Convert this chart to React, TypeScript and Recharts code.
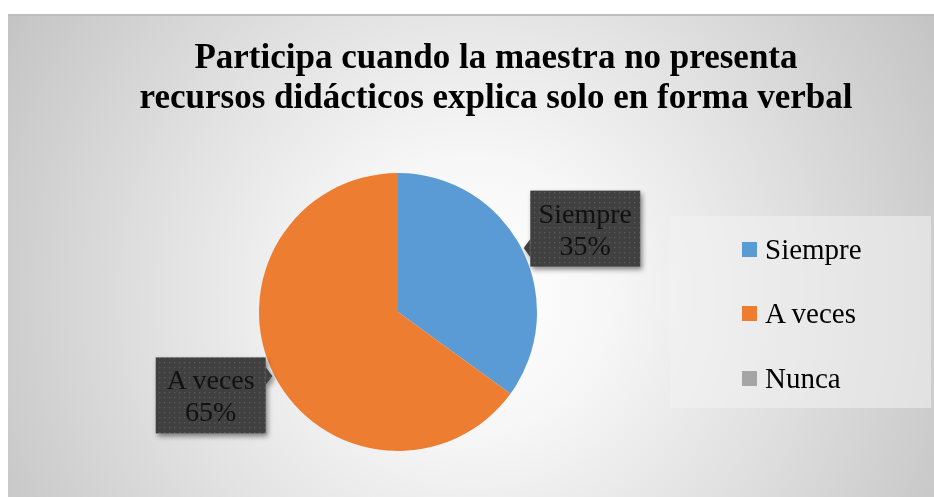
import React from 'react';
import { PieChart, Pie, Cell, Legend } from 'recharts';

const categories = ['Siempre', 'A veces', 'Nunca'];
const values = [35, 65, 0];
const colors = ['#5b9bd5', '#ed7d31', '#a5a5a5'];

const chartTitle = [
  'Participa cuando la maestra no presenta',
  'recursos didácticos explica solo en forma verbal',
];

const data = categories.map((name, i) => ({ name, value: values[i] }));

const RADIAN = Math.PI / 180;
const serif = '"Liberation Serif", "Times New Roman", serif';

const renderLabel = (props: any) => {
  const { cx, cy, midAngle, outerRadius, name, percent, index } = props;
  if (!percent) return null;
  const w = 110;
  const h = 76;
  const ang = (midAngle - 3) * RADIAN;
  const r = outerRadius + 66;
  const bx = cx + r * Math.cos(ang) - w / 2;
  const by = cy - r * Math.sin(ang) - h / 2;
  // pointer toward the slice
  const tx = cx + (outerRadius + 2) * Math.cos(midAngle * RADIAN);
  const ty = cy - (outerRadius + 2) * Math.sin(midAngle * RADIAN);
  const edgeX = tx < bx ? bx : bx + w;
  const baseY = Math.min(Math.max(ty, by + 10), by + h - 10);
  const pointer = `${edgeX},${baseY - 9} ${tx},${ty} ${edgeX},${baseY + 9}`;
  return (
    <g key={`lbl-${index}`}>
      {index === 0 && (
        <defs>
          <pattern id="dots" width="5" height="5" patternUnits="userSpaceOnUse">
            <rect width="5" height="5" fill="#404040" />
            <rect x="1" y="1" width="1.3" height="1.3" fill="#5a5a5a" />
          </pattern>
          <filter id="shade" x="-20%" y="-20%" width="150%" height="150%">
            <feDropShadow dx="2" dy="3" stdDeviation="2.5" floodColor="#000" floodOpacity="0.45" />
          </filter>
        </defs>
      )}
      <g filter="url(#shade)">
        <rect x={bx} y={by} width={w} height={h} fill="url(#dots)" />
        <polygon points={pointer} fill="url(#dots)" />
      </g>
      <text
        x={bx + w / 2}
        y={by + 32}
        textAnchor="middle"
        fontFamily={serif}
        fontSize={28}
        fill="#111"
      >
        {name}
      </text>
      <text
        x={bx + w / 2}
        y={by + 64}
        textAnchor="middle"
        fontFamily={serif}
        fontSize={28}
        fill="#111"
      >
        {`${Math.round(percent * 100)}%`}
      </text>
    </g>
  );
};

const renderLegend = () => (
  <div
    style={{
      width: 261,
      height: 192,
      background: 'rgba(242,242,242,0.55)',
      boxSizing: 'border-box',
      paddingTop: 1,
      paddingLeft: 72,
    }}
  >
    {categories.map((c, i) => (
      <div
        key={c}
        style={{
          display: 'flex',
          alignItems: 'center',
          height: 64.5,
          fontFamily: serif,
          fontSize: 29,
          color: '#000',
        }}
      >
        <span
          style={{
            display: 'inline-block',
            width: 15,
            height: 15,
            background: colors[i],
            marginRight: 8,
          }}
        />
        {c}
      </div>
    ))}
  </div>
);

export default function App() {
  return (
    <div
      style={{
        position: 'fixed',
        left: 8,
        top: 14,
        width: 926,
        height: 483,
        overflow: 'hidden',
        borderTop: '2px solid #bdbdbd',
        boxSizing: 'border-box',
        background:
          'radial-gradient(circle at 50% 58%, #ffffff 0%, #f7f7f7 25%, #e3e3e3 55%, #c4c4c4 100%)',
      }}
    >
      <div
        style={{
          position: 'absolute',
          left: 50,
          width: 876,
          top: 21,
          textAlign: 'center',
          fontFamily: serif,
          fontWeight: 'bold',
          fontSize: 35,
          lineHeight: '40px',
          color: '#000',
          whiteSpace: 'nowrap',
        }}
      >
        {chartTitle.map((t) => (
          <div key={t}>{t}</div>
        ))}
      </div>
      <PieChart
        width={926}
        height={481}
        margin={{ top: 0, right: 0, bottom: 0, left: 0 }}
        style={{ position: 'absolute', left: 0, top: 0 }}
      >
        <Pie
          data={data}
          dataKey="value"
          nameKey="name"
          cx={390}
          cy={296}
          outerRadius={139}
          startAngle={90}
          endAngle={-270}
          stroke="none"
          label={renderLabel}
          labelLine={false}
          isAnimationActive={false}
        >
          {data.map((d, i) => (
            <Cell key={d.name} fill={colors[i]} />
          ))}
        </Pie>
        <Legend
          content={renderLegend}
          layout="vertical"
          verticalAlign="top"
          align="right"
          wrapperStyle={{ left: 662, top: 200, width: 261 }}
        />
      </PieChart>
    </div>
  );
}
